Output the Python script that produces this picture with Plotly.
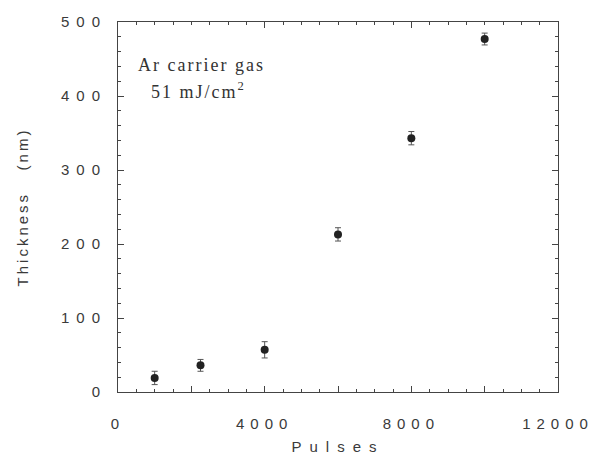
import plotly.graph_objects as go

pulses = [1000, 2250, 4000, 6000, 8000, 10000]
thickness = [19, 36, 57, 213, 343, 477]
thickness_err = [9, 8, 11, 9, 9, 8]

x_labelvals = [0, 4000, 8000, 12000]
x_labeltext = ["0", "4000", "8000", "12000"]
x_majorvals = [0, 2000, 4000, 6000, 8000, 10000, 12000]
y_tickvals = [0, 100, 200, 300, 400, 500]
y_ticktext = ["0", "100", "200", "300", "400", "500"]

axis_color = "#444444"
text_color = "#3a3a3a"


def spaced(s, px):
    return f'<span style="letter-spacing:{px}px">{s}</span>'


fig = go.Figure()
fig.add_trace(go.Scatter(
    x=pulses, y=thickness, mode="markers",
    marker=dict(color="#222222", size=8, symbol="circle"),
    error_y=dict(type="data", array=thickness_err, visible=True,
                 color="#555555", thickness=1, width=3),
    showlegend=False,
))
# invisible trace on overlay axis to carry the unlabeled major ticks
fig.add_trace(go.Scatter(x=[], y=[], xaxis="x2", showlegend=False))

fig.add_annotation(x=0.04, y=0.885, xref="paper", yref="paper",
                   text=spaced("Ar carrier gas", 2), showarrow=False,
                   xanchor="left", yanchor="middle",
                   font=dict(family="Liberation Serif", size=18, color="#333333"))
fig.add_annotation(x=0.18, y=0.815, xref="paper", yref="paper",
                   text=spaced("51 mJ/cm", 2) + "<sup>2</sup>", showarrow=False,
                   xanchor="center", yanchor="middle",
                   font=dict(family="Liberation Serif", size=18, color="#333333"))

fig.update_layout(
    width=598, height=455,
    margin=dict(l=118, r=40, t=22, b=63),
    paper_bgcolor="white", plot_bgcolor="white",
    font=dict(family="Liberation Sans", size=15, color=text_color),
    xaxis=dict(
        range=[0, 12000], tickvals=x_labelvals,
        ticktext=[spaced(t, 6) for t in x_labeltext],
        ticks="inside", ticklen=6, tickcolor=axis_color,
        minor=dict(dtick=500, ticks="inside", ticklen=3, tickcolor=axis_color),
        showline=True, linecolor=axis_color, linewidth=1, mirror="ticks",
        showgrid=False, zeroline=False, automargin=False,
        ticklabelstandoff=18,
        title=dict(text=spaced("Pulses", 8), standoff=14, font=dict(size=15)),
    ),
    xaxis2=dict(
        range=[0, 12000], overlaying="x", anchor="y", side="bottom",
        tickvals=x_majorvals, showticklabels=False, automargin=False,
        ticks="inside", ticklen=6, tickcolor=axis_color,
        showline=False, showgrid=False, zeroline=False,
    ),
    yaxis=dict(
        range=[0, 500], tickvals=y_tickvals,
        ticktext=[spaced(t, 7) for t in y_ticktext],
        ticks="inside", ticklen=6, tickcolor=axis_color,
        minor=dict(dtick=20, ticks="inside", ticklen=3, tickcolor=axis_color),
        showline=True, linecolor=axis_color, linewidth=1, mirror="ticks",
        showgrid=False, zeroline=False, automargin=False,
        ticklabelstandoff=7,
        title=dict(text=spaced("Thickness   (nm)", 3), standoff=28, font=dict(size=15)),
    ),
)

fig.write_html("out.html", config={"displayModeBar": False},
               post_script="document.body.style.margin='0';")
